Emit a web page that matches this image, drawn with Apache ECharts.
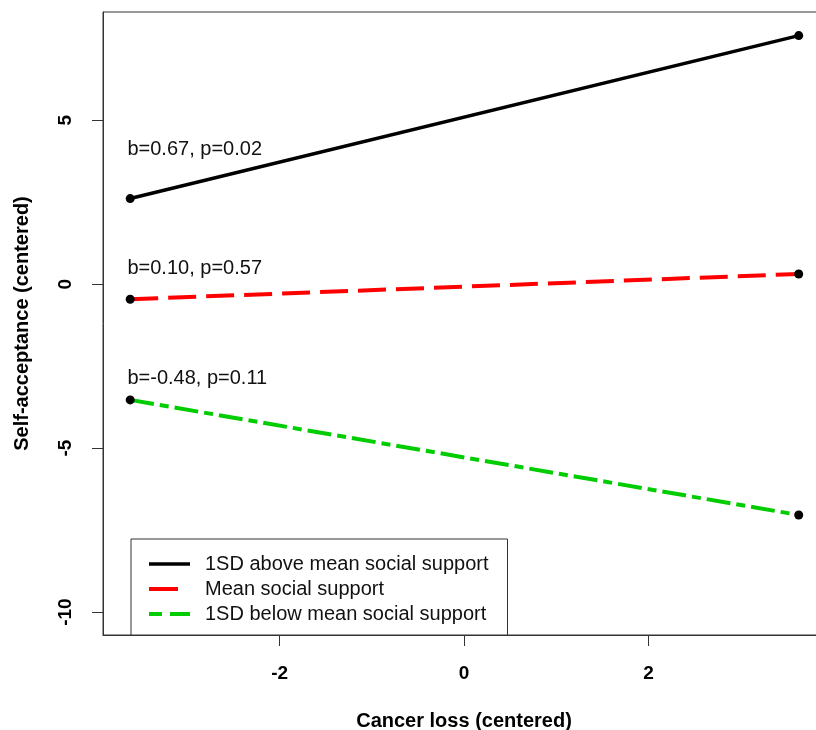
<!DOCTYPE html>
<html>
<head>
<meta charset="utf-8">
<script src="https://cdn.jsdelivr.net/npm/echarts@6/dist/echarts.min.js"></script>
<style>
html,body{margin:0;padding:0;background:#fff;}
#chart{width:816px;height:730px;}
</style>
</head>
<body>
<div id="chart"></div>
<script>
// ---- data ----
const xEnds = [-3.62, 3.63];
const seriesNames = ['1SD above mean social support', 'Mean social support', '1SD below mean social support'];
const aboveVals = [2.61, 7.58];
const meanVals = [-0.46, 0.31];
const belowVals = [-3.53, -7.04];
const annotTexts = ['b=0.67, p=0.02', 'b=0.10, p=0.57', 'b=-0.48, p=0.11'];
const annotX = [-3.65, -3.65, -3.65];
const annotY = [4.1, 0.48, -2.89];
const xTicks = [-2, 0, 2];
const yTicks = [-10, -5, 0, 5];
const xRange = [-3.915, 3.915];
const yRange = [-10.70, 8.30];

const FONT = '"Liberation Sans", Arial, sans-serif';
const colors = ['#000000', '#ff0000', '#00cd00'];
const dashes = ['solid', [28, 10], [24, 6, 9, 6]];
const legendDashes = ['solid', [29, 20], [13, 8, 20, 8]];
const widths = [3.5, 4, 4];
const allVals = [aboveVals, meanVals, belowVals];

const series = [];
allVals.forEach((vals, i) => {
  series.push({
    name: seriesNames[i],
    type: 'line',
    symbol: 'none',
    data: xEnds.map((x, j) => [x, vals[j]]),
    lineStyle: { color: colors[i], width: widths[i], type: dashes[i], cap: 'butt' },
    itemStyle: { color: colors[i] },
    z: 2,
    silent: true
  });
});
const pts = [];
allVals.forEach(vals => xEnds.forEach((x, j) => pts.push([x, vals[j]])));
series.push({
  type: 'scatter',
  symbol: 'circle',
  symbolSize: 9,
  data: pts,
  itemStyle: { color: '#000', opacity: 1 },
  z: 5,
  silent: true
});
series.push({
  type: 'scatter',
  symbolSize: 0,
  data: annotTexts.map((t, i) => ({ value: [annotX[i], annotY[i]], name: t })),
  itemStyle: { opacity: 1 },
  label: {
    show: true,
    position: 'right',
    distance: 0,
    formatter: p => p.name,
    fontFamily: FONT,
    fontSize: 20,
    color: '#111'
  },
  z: 6,
  silent: true
});

const chart = echarts.init(document.getElementById('chart'), null, { renderer: 'canvas' });
chart.setOption({
  backgroundColor: '#ffffff',
  animation: false,
  grid: {
    left: 103, top: 12, width: 722, height: 623,
    outerBoundsMode: 'none',
    containLabel: false,
    show: true, borderColor: '#333', borderWidth: 1, backgroundColor: 'transparent'
  },
  legend: {
    orient: 'vertical',
    left: 131, top: 539,
    padding: [15, 19, 11, 16],
    borderColor: '#333', borderWidth: 1,
    backgroundColor: '#fff',
    itemWidth: 41, itemHeight: 20, itemGap: 5,
    itemStyle: { opacity: 0 },
    data: seriesNames.map((n, i) => ({
      name: n,
      lineStyle: { color: colors[i], width: widths[i], type: legendDashes[i], cap: 'butt' }
    })),
    selectedMode: false,
    textStyle: { fontFamily: FONT, fontSize: 20, color: '#111', padding: [0, 0, 0, 10] }
  },
  xAxis: {
    type: 'value',
    min: xRange[0], max: xRange[1],
    name: 'Cancer loss (centered)',
    nameLocation: 'middle',
    nameGap: 76,
    nameTextStyle: { fontFamily: FONT, fontSize: 20, fontWeight: 'bold', color: '#000' },
    axisLine: { show: true, onZero: false, lineStyle: { color: '#333', width: 1 } },
    axisTick: { show: true, length: 11, customValues: xTicks, lineStyle: { color: '#333' } },
    axisLabel: { customValues: xTicks, margin: 29, fontFamily: FONT, fontSize: 19, fontWeight: 'bold', color: '#000' },
    splitLine: { show: false }
  },
  yAxis: {
    type: 'value',
    min: yRange[0], max: yRange[1],
    name: 'Self-acceptance (centered)',
    nameLocation: 'middle',
    nameGap: 71,
    nameTextStyle: { fontFamily: FONT, fontSize: 20, fontWeight: 'bold', color: '#000' },
    axisLine: { show: true, onZero: false, lineStyle: { color: '#333', width: 1 } },
    axisTick: { show: true, length: 11, customValues: yTicks, lineStyle: { color: '#333' } },
    axisLabel: { customValues: yTicks, rotate: 90, margin: 28, fontFamily: FONT, fontSize: 19, fontWeight: 'bold', color: '#000' },
    splitLine: { show: false }
  },
  series: series
});
</script>
</body>
</html>
